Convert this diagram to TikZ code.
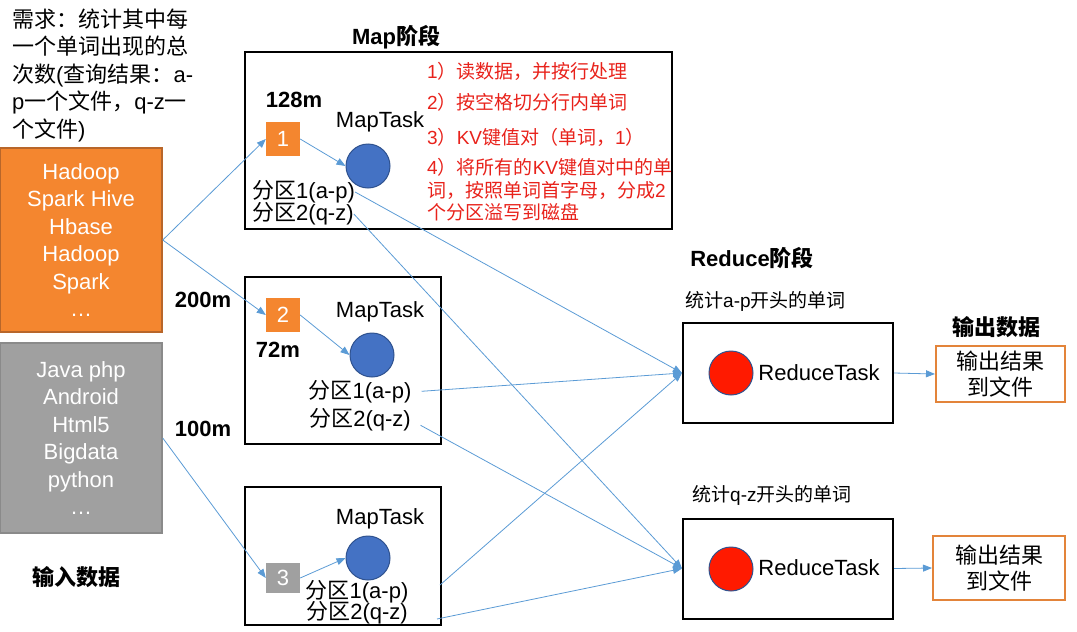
\documentclass[tikz,border=0pt]{standalone}
\usepackage{fontspec}
\setmainfont{Liberation Sans}
\newfontfamily\cjk{Noto Sans CJK SC}
\usetikzlibrary{arrows.meta}
\definecolor{srcorange}{HTML}{F4862F}
\definecolor{srcorangeline}{HTML}{B8662A}
\definecolor{srcgray}{HTML}{A0A0A0}
\definecolor{srcgrayline}{HTML}{8A8A8A}
\definecolor{taskblue}{HTML}{4472C4}
\definecolor{taskblueline}{HTML}{2F528F}
\definecolor{taskred}{HTML}{FF1A00}
\definecolor{flowblue}{HTML}{5B9BD5}
\definecolor{notered}{HTML}{E8221B}
\definecolor{outorange}{HTML}{E3843A}
\newcommand\zh[1]{{\cjk #1}}

\begin{document}
\begin{tikzpicture}[x=1pt,y=-1pt,
    txt/.style={inner sep=0pt, font=\fontsize{22}{27.5}\selectfont},
    hd/.style={inner sep=0pt, font=\fontsize{22}{27.5}\selectfont\bfseries},
    note/.style={inner sep=0pt, anchor=west, align=left, text=notered, font=\fontsize{19}{22.5}\selectfont},
    srcbox/.style={draw, line width=1.5pt, minimum width=162, inner sep=0pt, text=white, align=center, font=\fontsize{22}{27.5}\selectfont},
    stagebox/.style={draw, line width=2pt, inner sep=0pt},
    numbox/.style={minimum size=34, inner sep=0pt, text=white, font=\fontsize{22}{24}\selectfont},
    task/.style={circle, minimum size=44, inner sep=0pt, line width=1pt},
    outbox/.style={draw=outorange, line width=2pt, align=center, inner sep=0pt, font=\fontsize{22}{26}\selectfont},
    flow/.style={draw=flowblue, line width=0.8pt, -{Triangle[length=9pt,width=7pt]}}
  ]
  \useasboundingbox (0,0) rectangle (1077,632);

  % Input data
  \node[txt, anchor=west, align=left] (need) at (12,75) {\zh{需求：统计其中每}\\\zh{一个单词出现的总}\\\zh{次数}(\zh{查询结果：}a-\\p\zh{一个文件，}q-z\zh{一}\\\zh{个文件})};
  \node[srcbox, fill=srcorange, draw=srcorangeline, minimum height=184] (src1) at (81,240) {Hadoop\\Spark Hive\\Hbase\\Hadoop\\Spark\\…};
  \node[srcbox, fill=srcgray, draw=srcgrayline, minimum height=190] (src2) at (81,438) {Java php\\Android\\Html5\\Bigdata\\python\\…};
  \node[hd] (inhd) at (76,577) {\zh{输入数据}};

  % Map stage
  \node[stagebox, minimum width=427, minimum height=177] (m1) at (458.5,140.5) {};
  \node[stagebox, minimum width=196, minimum height=167] (m2) at (343,360.5) {};
  \node[stagebox, minimum width=196, minimum height=138] (m3) at (343,556) {};
  \node[hd] (maphd) at (396,37) {Map\zh{阶段}};

  \node[hd] (s1) at (294,100) {128m};
  \node[numbox, fill=srcorange] (n1) at (283,139) {1};
  \node[txt] (t1) at (380,122) {MapTask};
  \node[task, fill=taskblue, draw=taskblueline] (c1) at (368,166) {};
  \node[txt, anchor=west] (p11) at (252,192) {\zh{分区}1(a-p)};
  \node[txt, anchor=west] (p12) at (252,214) {\zh{分区}2(q-z)};

  \node[note] (note1) at (427,71) {1\zh{）读数据，并按行处理}};
  \node[note] (note2) at (427,102) {2\zh{）按空格切分行内单词}};
  \node[note] (note3) at (427,137) {3\zh{）}KV\zh{键值对（单词，}1\zh{）}};
  \node[note] (note4) at (427,190) {4\zh{）将所有的}KV\zh{键值对中的单}\\\zh{词，按照单词首字母，分成}2\\\zh{个分区溢写到磁盘}};

  \node[hd] (s2) at (203,300) {200m};
  \node[numbox, fill=srcorange] (n2) at (283,315) {2};
  \node[hd] (s2b) at (278,350) {72m};
  \node[txt] (t2) at (380,312) {MapTask};
  \node[task, fill=taskblue, draw=taskblueline] (c2) at (372,355) {};
  \node[txt] (p21) at (360,392) {\zh{分区}1(a-p)};
  \node[txt] (p22) at (360,420) {\zh{分区}2(q-z)};

  \node[hd] (s3) at (203,429) {100m};
  \node[numbox, fill=srcgray, minimum height=30] (n3) at (283,578) {3};
  \node[txt] (t3) at (380,519) {MapTask};
  \node[task, fill=taskblue, draw=taskblueline] (c3) at (368,558) {};
  \node[txt] (p31) at (357,592) {\zh{分区}1(a-p)};
  \node[txt] (p32) at (357,613) {\zh{分区}2(q-z)};
  \coordinate (e31) at (440,585);
  \coordinate (e32) at (437,619);

  % Reduce stage
  \node[hd] (redhd) at (752,258) {Reduce\zh{阶段}};
  \node[note, text=black] (rl1) at (685,301) {\zh{统计}a-p\zh{开头的单词}};
  \node[stagebox, minimum width=210, minimum height=100] (r1) at (788,373) {};
  \node[task, fill=taskred, draw=taskblueline] (rc1) at (731,373) {};
  \node[txt] (rt1) at (819,373) {ReduceTask};

  \node[note, text=black] (rl2) at (692,495) {\zh{统计}q-z\zh{开头的单词}};
  \node[stagebox, minimum width=210, minimum height=100] (r2) at (788,568.5) {};
  \node[task, fill=taskred, draw=taskblueline] (rc2) at (731,569) {};
  \node[txt] (rt2) at (819,568) {ReduceTask};

  % Output data
  \node[hd] (outhd) at (996,327) {\zh{输出数据}};
  \node[outbox, minimum width=129, minimum height=56] (o1) at (1000.5,374) {\zh{输出结果}\\\zh{到文件}};
  \node[outbox, minimum width=132, minimum height=64] (o2) at (999,568) {\zh{输出结果}\\\zh{到文件}};

  % Arrows
  \draw[flow] (src1.east) -- (n1.west);
  \draw[flow] (src1.east) -- (n2.west);
  \draw[flow] (src2.east) -- (n3.west);
  \draw[flow] (n1.east) -- (c1.west);
  \draw[flow] (n2.east) -- (c2.west);
  \draw[flow] (n3.east) -- (c3.west);
  \draw[flow] (p11.east) -- (r1.west);
  \draw[flow] (p12.east) -- (r2.west);
  \draw[flow, shorten <=10pt] (p21.east) -- (r1.west);
  \draw[flow, shorten <=11pt] (p22.east) -- (r2.west);
  \draw[flow] (e31) -- (r1.west);
  \draw[flow] (e32) -- (r2.west);
  \draw[flow] (r1.east) -- (o1.west);
  \draw[flow] (r2.east) -- (o2.west);
\end{tikzpicture}
\end{document}
